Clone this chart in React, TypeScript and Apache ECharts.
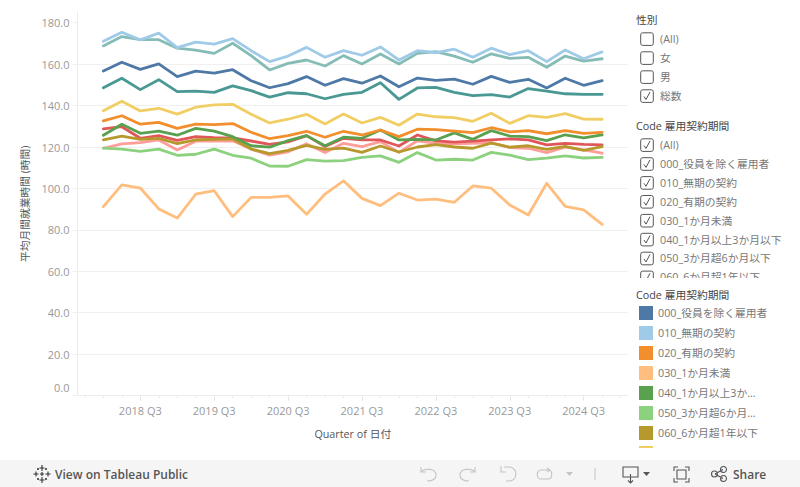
import React, { useEffect, useRef } from "react";
import * as echarts from "echarts";

const quarters = [
  "2018 Q1","2018 Q2","2018 Q3","2018 Q4","2019 Q1","2019 Q2","2019 Q3","2019 Q4",
  "2020 Q1","2020 Q2","2020 Q3","2020 Q4","2021 Q1","2021 Q2","2021 Q3","2021 Q4",
  "2022 Q1","2022 Q2","2022 Q3","2022 Q4","2023 Q1","2023 Q2","2023 Q3","2023 Q4",
  "2024 Q1","2024 Q2","2024 Q3","2024 Q4",
];

const v000 = [156.7,160.9,157.5,160.1,154,156.6,155.7,157.3,152,148.6,150.6,154,149.8,153,150.8,154.3,149.1,153.3,152.2,152.8,150.3,154.1,151.2,152.7,148.5,153.2,149.8,152];
const v010 = [171,175.4,171.7,175,168,170.6,169.7,172.3,166.5,161.2,163.9,168.1,163.3,166.5,164.3,168.3,162,166.5,165.5,167.2,163.3,167.7,164.6,166.5,161.2,166.8,162.6,165.9];
const v020 = [132.6,135.1,131,131.9,129,131,130.8,131.3,127.1,124,125.5,127.6,124.7,127.6,125.8,128.2,125,128.6,128.4,127.7,126.9,129.3,127.3,127.9,126.4,127.9,126.6,127.1];
const v030 = [91.2,101.7,100.2,90.1,85.7,97.2,98.9,86.4,95.7,95.7,96.4,87.5,97.3,103.7,95.2,91.7,97.7,94.4,94.8,93.3,101.2,100.1,92,87.2,102.5,91.4,89.7,82.7];
const v040 = [125.7,131,126.6,127.7,125.7,129,127.7,125,120.6,119.9,123.1,125.5,120.6,124.7,124.2,128.2,123.4,123.7,123.4,126.8,123.7,127.9,125.3,125,123.1,125.9,124.4,125.8];
const v050 = [119.5,119,117.9,119,116,116.5,119,116,114.6,110.8,110.7,113.9,113.2,113.4,115,115.7,112.6,117.3,113.7,114.1,113.7,117.4,116.1,113.9,114.6,115.7,114.7,115];
const v060 = [123.5,125.3,123.7,124.2,121.6,123.5,123.7,123.9,119,116.8,118.4,120.8,118.9,119.5,117.4,120.5,117.6,120,121.1,120,119.4,121.9,119.9,120.6,118.9,120.3,118.4,120.2];
const v070 = [137.5,142.1,137.4,138.7,135.9,139.2,140.3,140.6,135.8,131.6,133.4,135.8,131.1,135.9,131.6,134.3,130.5,135.9,134.6,134.2,132.4,136.3,131.4,135.1,134.3,136.1,133.5,133.4];
const v080 = [148.6,153.2,147.7,152.5,146.7,147,146.4,149.5,147.2,144.1,146.2,145.7,143.3,145.4,146.4,151,143,148.5,148.8,146.4,144.8,145.3,144.1,148.2,147,145.7,145.4,145.4];
const v090 = [168.8,173.3,171.8,171.8,167.7,166.8,165.2,170.1,164.1,157.2,160.4,162,159.1,164.1,160.1,164.9,160.1,165.2,166,163.9,160.9,165,162.8,163.3,158.5,163.9,161.5,162.6];
const v100 = [128.8,129.8,124.2,125.5,123.2,125,124.5,124.4,122.9,121.3,122.5,125.5,120.2,124.2,123.5,123.4,120.5,125.8,123,122.4,122.8,123.4,123.9,123.4,121,121.8,121.3,121];
const v110 = [119.4,121.5,122.1,123.4,118.6,122.8,122.8,123,119,116.1,117.7,121.5,117.4,121.8,120.2,122.6,117.4,123,121.8,121.5,121.8,122.1,119.7,119.4,117.3,119.9,118.6,117];

const seriesNames = [
  "000_役員を除く雇用者","010_無期の契約","020_有期の契約","030_1か月未満",
  "040_1か月以上3か月以下","050_3か月超6か月以下","060_6か月超1年以下","070_1年超3年以下",
  "080_3年超5年以下","090_5年超10年以下","100_10年超","110_期間の定めなし",
];
const seriesValues = [v000,v010,v020,v030,v040,v050,v060,v070,v080,v090,v100,v110];
const seriesColors = ["#4E79A7","#A0CBE8","#F28E2B","#FFBE7D","#59A14F","#8CD17D","#B6992D","#F1CE63","#499894","#86BCB6","#E15759","#FF9D9A"];

const genderFilter = [["(All)",false],["女",false],["男",false],["総数",true]] as [string, boolean][];
const codeFilter = ["(All)","000_役員を除く雇用者","010_無期の契約","020_有期の契約","030_1か月未満","040_1か月以上3か月以下","050_3か月超6か月以下","060_6か月超1年以下"];
const legendLabels = ["000_役員を除く雇用者","010_無期の契約","020_有期の契約","030_1か月未満","040_1か月以上3か...","050_3か月超6か月...","060_6か月超1年以下"];
const yTicks = [0,20,40,60,80,100,120,140,160,180];
const majorTickIdx = [2,6,10,14,18,22,26];
const minorTickIdx = Array.from({ length: 30 }, (_, i) => i - 1);

const FONT = '"Open Sans","Noto Sans CJK JP",sans-serif';
const TXT = 10.75;

const reg = (n: string, d: string) => echarts.graphic.registerShape(n, (echarts.graphic as any).extendPath(d, {}));
reg("iUndo", "M1 1 V6 H6 M1 6 C4 2 16 2 16 9 C16 14 11 15 7 15");
reg("iRedo", "M15 1 V6 H10 M15 6 C12 2 0 2 0 9 C0 14 5 15 9 15");
reg("iRevert", "M1 0 V6 H6 M4 1 H10 C18 2 18 15 9 15 H6");
reg("iRefresh", "M5 2 H12 C17 2 17 11 12 11 H5 C0 11 0 2 5 2 M11 0 L14 2 L11 4");
reg("iDevice", "M1 1 H16 V11 H1 Z M8.5 8 V17 M6 14.5 L8.5 17 L11 14.5");
reg("iFull", "M1 5 V1 H5 M12 1 H16 V5 M16 12 V16 H12 M5 16 H1 V12 M4 4 H13 V13 H4 Z");
reg("iShare", "M4 8 L12 3.5 M4 8 L12 12.5 M6.5 8 A3 3 0 1 1 0.5 8 A3 3 0 1 1 6.5 8 M15.5 3.5 A3 3 0 1 1 9.5 3.5 A3 3 0 1 1 15.5 3.5 M15.5 12.5 A3 3 0 1 1 9.5 12.5 A3 3 0 1 1 15.5 12.5");
reg("iLogo", "M9 0 V6 M6.5 3 H11.5 M9 12 V18 M6.5 15 H11.5 M3 6.5 V11.5 M0.5 9 H5.5 M15 6.5 V11.5 M12.5 9 H17.5 M5 3 V5 M4 4 H6 M13 3 V5 M12 4 H14 M5 13 V15 M4 14 H6 M13 13 V15 M12 14 H14 M9 7 V11 M7 9 H11");

function buildGraphics() {
  const g: any[] = [];
  const text = (x: number, y: number, t: string, fill = "#777", size = TXT) =>
    g.push({ type: "text", x, y, z: 20, style: { text: t, fill, font: `normal ${size}px ${FONT}`, verticalAlign: "middle", align: "left" } });
  const checkbox = (y: number, checked: boolean) => {
    g.push({ type: "rect", z: 20, shape: { x: 640.7, y: y - 6.2, width: 12.6, height: 12.6, r: 2 }, style: { fill: "#fff", stroke: "#555", lineWidth: 1 } });
    if (checked) g.push({ type: "polyline", z: 20, shape: { points: [[644, y + 0.5], [646, y + 3.5], [650, y - 4]] }, style: { fill: "none", stroke: "#555", lineWidth: 1 } });
  };
  text(636, 20, "性別", "#444");
  const gy = [39, 58, 77, 96];
  genderFilter.forEach(([t, c], i) => { checkbox(gy[i], c); text(660, gy[i], t); });
  text(636, 126, "Code 雇用契約期間", "#444");
  codeFilter.forEach((t, i) => { const y = 145 + i * 18.9; checkbox(y, true); text(660, y, t); });
  g.push({ type: "rect", z: 21, shape: { x: 632, y: 278, width: 168, height: 9 }, style: { fill: "#fff" } });

  text(636, 295, "Code 雇用契約期間", "#444");
  legendLabels.forEach((t, i) => {
    const y = 306 + i * 20;
    g.push({ type: "rect", z: 20, shape: { x: 639, y, width: 14, height: 14 }, style: { fill: seriesColors[i] } });
    text(658, y + 7, t);
  });
  g.push({ type: "rect", z: 20, shape: { x: 639, y: 446, width: 14, height: 2 }, style: { fill: seriesColors[7] } });

  g.push({ type: "rect", z: 22, shape: { x: 0, y: 460, width: 800, height: 27 }, style: { fill: "#f5f5f5" } });
  const icon = (type: string, x: number, y: number, stroke: string) =>
    g.push({ type, x, y, z: 23, style: { fill: "none", stroke, lineWidth: 1.1 } });
  const tri = (x: number, y: number, fill: string) =>
    g.push({ type: "polygon", z: 23, shape: { points: [[x, y], [x + 7, y], [x + 3.5, y + 4]] }, style: { fill } });
  const off = "#c4c4c4", on = "#555";
  icon("iLogo", 33, 465, "#333");
  g.push({ type: "text", x: 55, y: 474, z: 23, style: { text: "View on Tableau Public", fill: "#555", font: `600 12px ${FONT}`, verticalAlign: "middle" } });
  icon("iUndo", 420, 466, off);
  icon("iRedo", 460, 466, off);
  icon("iRevert", 500, 466, off);
  icon("iRefresh", 536, 468, off);
  tri(566, 472, off);
  g.push({ type: "line", z: 23, shape: { x1: 595, y1: 468, x2: 595, y2: 480 }, style: { stroke: "#c4c4c4", lineWidth: 1 } });
  icon("iDevice", 622, 466, on);
  tri(643, 472, on);
  icon("iFull", 673, 466, on);
  icon("iShare", 711, 466, on);
  g.push({ type: "text", x: 733, y: 474, z: 23, style: { text: "Share", fill: "#555", font: `600 12px ${FONT}`, verticalAlign: "middle" } });
  return g;
}

export default function App() {
  const ref = useRef<HTMLDivElement>(null);
  useEffect(() => {
    document.body.style.margin = "0";
    const chart = echarts.init(ref.current!, null, { renderer: "svg" });
    const axisX = { type: "value", min: -1.4, max: 28.4 } as any;
    const order = seriesNames.map((_, i) => i).reverse();
    chart.setOption({
      animation: false,
      backgroundColor: "#fff",
      textStyle: { fontFamily: FONT },
      grid: { left: 77.5, right: 172, top: 12, bottom: 91.4, containLabel: false },
      xAxis: [
        {
          ...axisX,
          splitLine: { show: false },
          axisLine: { show: true, onZero: false, lineStyle: { color: "#ececec", width: 1 } },
          axisTick: { show: true, length: 5, customValues: majorTickIdx, lineStyle: { color: "#e2e2e2" } },
          axisLabel: {
            customValues: majorTickIdx,
            formatter: (v: number) => quarters[Math.round(v)] ?? "",
            color: "#999", fontSize: 11, fontFamily: FONT, margin: 9,
          },
          name: "Quarter of 日付", nameLocation: "middle", nameGap: 33,
          nameTextStyle: { color: "#555", fontSize: TXT, fontFamily: FONT },
        },
        {
          ...axisX,
          position: "bottom",
          splitLine: { show: false },
          axisLine: { show: false },
          axisTick: { show: true, length: 2.5, customValues: minorTickIdx, lineStyle: { color: "#ececec" } },
          axisLabel: { show: false },
        },
      ],
      yAxis: {
        type: "value", min: 0, max: 185.17,
        splitLine: { show: true, showMaxLine: false, lineStyle: { color: "#f0f0f0", width: 1 } },
        axisLine: { show: true, onZero: false, lineStyle: { color: "#ececec", width: 1 } },
        axisTick: { show: true, length: 5, customValues: yTicks, lineStyle: { color: "#f0f0f0" } },
        axisLabel: {
          customValues: yTicks,
          formatter: (v: number) => (v === 0 ? "{z|0.0}" : v.toFixed(1)),
          color: "#999", fontSize: 11, fontFamily: FONT, margin: 8,
          verticalAlignMinLabel: "bottom",
          rich: { z: { color: "#999", fontSize: 11, fontFamily: FONT, padding: [0, 0, 3, 0] } },
        },
        name: "平均月間就業時間 (時間)", nameLocation: "middle", nameGap: 43, nameRotate: 90,
        nameTextStyle: { color: "#555", fontSize: TXT, fontFamily: FONT },
      },
      series: order.map((i) => ({
        name: seriesNames[i],
        type: "line",
        z: 3,
        data: quarters.map((_, k) => [k, seriesValues[i][k]]),
        showSymbol: false,
        symbol: "none",
        lineStyle: { color: seriesColors[i], width: 2.8, join: "round", cap: "round" },
        itemStyle: { color: seriesColors[i] },
        emphasis: { disabled: true },
      })),
      graphic: buildGraphics(),
    } as any);
    return () => chart.dispose();
  }, []);
  return <div ref={ref} style={{ width: 800, height: 487 }} />;
}
